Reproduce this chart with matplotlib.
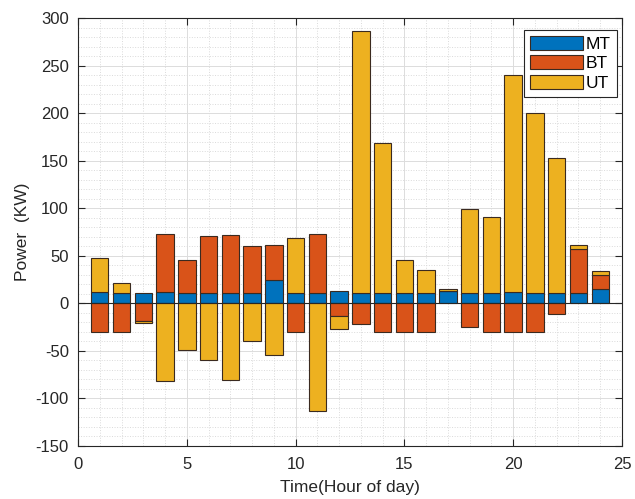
import numpy as np
import matplotlib
matplotlib.use("Agg")
import matplotlib.pyplot as plt
from matplotlib.ticker import MultipleLocator

plt.rcParams['font.family'] = ['Liberation Sans', 'DejaVu Sans']
plt.rcParams['axes.unicode_minus'] = False

# Hour of day and power of each unit (KW)
hours = np.arange(1, 25)
mt = [12, 11, 11, 12, 11, 11, 11, 11, 25, 11, 11, 13,
      11, 11, 11, 11, 13, 11, 11, 12, 11, 11, 11, 15]
bt = [-30, -30, -19, 61, 35, 60, 61, 49, 36, -30, 62, -13,
      -22, -30, -30, -30, 0, -25, -30, -30, -30, -11, 46, 15]
ut = [36, 10, -2, -82, -49, -60, -81, -40, -54, 58, -113, -14,
      275, 158, 35, 24, 2.5, 88, 80, 228, 189, 142, 4, 3.5]
names = ["MT", "BT", "UT"]
colors = ["#0072BD", "#D95319", "#EDB120"]

fig = plt.figure(figsize=(6.35, 4.99), dpi=100)
ax = fig.add_axes([78 / 635, 53 / 499, 544 / 635, 428 / 499])

# stacked bars, positives stacked upward and negatives downward
pos_base = np.zeros(len(hours))
neg_base = np.zeros(len(hours))
for vals, name, c in zip([mt, bt, ut], names, colors):
    v = np.array(vals, dtype=float)
    bottom = np.where(v >= 0, pos_base, neg_base)
    ax.bar(hours, v, bottom=bottom, width=0.8, color=c, edgecolor="#3a2a20",
           linewidth=0.8, label=name, zorder=3)
    pos_base += np.where(v >= 0, v, 0)
    neg_base += np.where(v < 0, v, 0)

ax.axhline(0, color="#262626", linewidth=0.8, zorder=4)

ax.set_xlim(0, 25)
ax.set_ylim(-150, 300)
ax.xaxis.set_major_locator(MultipleLocator(5))
ax.xaxis.set_minor_locator(MultipleLocator(1))
ax.yaxis.set_major_locator(MultipleLocator(50))
ax.yaxis.set_minor_locator(MultipleLocator(10))
ax.grid(which="major", color="#dcdcdc", linewidth=0.7, zorder=0)
ax.grid(which="minor", color="#dadada", linestyle=":", linewidth=0.7, zorder=0)
ax.set_axisbelow(True)

ax.tick_params(which="both", direction="in", top=True, right=True,
               colors="#262626", labelsize=12)
ax.tick_params(which="major", length=5)
ax.tick_params(which="minor", length=0)
ax.tick_params(axis="x", pad=7.8)
ax.tick_params(axis="y", pad=6.5)
for s in ax.spines.values():
    s.set_color("#262626")
    s.set_linewidth(0.8)

ax.set_xlabel("Time(Hour of day)", fontsize=12.5, color="#262626", labelpad=6)
ax.set_ylabel("Power  (KW)", fontsize=12.5, color="#262626", labelpad=4)

leg = ax.legend(loc="upper right", fontsize=12.5, handlelength=3.0, handleheight=0.85,
                fancybox=False, framealpha=1, edgecolor="#262626",
                borderpad=0.35, labelspacing=0.2, handletextpad=0.2,
                borderaxespad=0, bbox_to_anchor=(0.991, 0.972))
leg.get_frame().set_linewidth(0.8)

fig.savefig("out.png", dpi=100)
